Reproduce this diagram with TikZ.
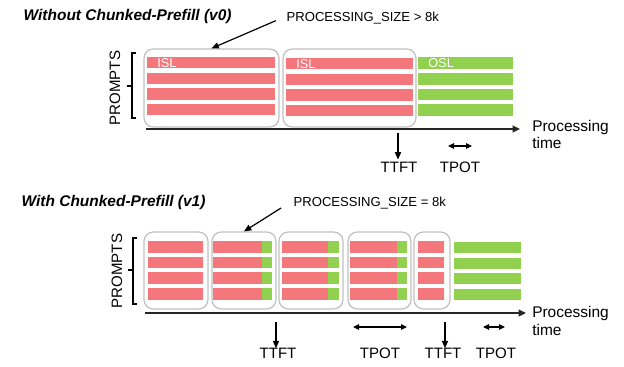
\documentclass[tikz,border=0pt]{standalone}
\usepackage{fontspec}
\setmainfont{Liberation Sans}
\usetikzlibrary{arrows.meta,fit}
\definecolor{islred}{HTML}{F4777B}
\definecolor{oslgreen}{HTML}{92D050}
\definecolor{chunkgray}{HTML}{C0C0C0}
\tikzset{
	chunk/.style={draw=chunkgray, line width=0.9pt, rounded corners=7pt, inner sep=0pt},
	ttl/.style={anchor=west, font=\fontsize{11.6}{14}\selectfont\bfseries\itshape},
	note/.style={anchor=west, font=\fontsize{9.8}{12}\selectfont},
	lbl/.style={font=\fontsize{11.3}{12.8}\selectfont, inner sep=1.5pt},
	tag/.style={anchor=west, text=white, inner sep=0pt, font=\fontsize{9.6}{11}\selectfont},
	ptr/.style={-{Triangle[length=5.5pt,width=4.6pt]}, line width=0.9pt},
	span/.style={{Triangle[length=4.5pt,width=4.2pt]}-{Triangle[length=4.5pt,width=4.2pt]}, line width=0.9pt},
	axis/.style={-{Triangle[length=5.5pt,width=5pt]}, line width=1.4pt, draw=black!85},
}
\begin{document}
\begin{tikzpicture}[x=0.75pt, y=-0.75pt]
	\useasboundingbox (0,0) rectangle (624,367);

	% without chunked prefill
	\node[ttl] (title0) at (19,17) {Without Chunked-Prefill (v0)};
	\node[note] (size0) at (282,18) {PROCESSING\_SIZE > 8k};
	\foreach \y in {57,72.6,88.2,103.8} {
		\fill[islred] (147,\y) rectangle (275,\y+11.5);
		\fill[islred] (286,\y+1) rectangle (413,\y+12.5);
		\fill[oslgreen] (418,\y+0.5) rectangle (513,\y+12);
	}
	\node[chunk, fit={(144,49) (279,127)}] (b1) {};
	\node[chunk, fit={(283,49) (416,127)}] (b2) {};
	\node[tag] (isl1) at (157,63) {ISL};
	\node[tag] (isl2) at (296,64) {ISL};
	\node[tag] (osl) at (428,63.5) {OSL};
	\draw[ptr, shorten <=5pt] (size0.west) -- (b1.north);

	\draw[line width=0.9pt] (136,53) -- (132,53) -- (132,118) -- (136,118);
	\draw[line width=0.9pt] (132,86) -- (127,86);
	\node[lbl, rotate=90] (prompts0) at (115,88) {PROMPTS};

	\coordinate (o0) at (146,129);
	\coordinate (t0) at (520,129);
	\draw[axis] (o0) -- (t0);
	\node[lbl, anchor=west, align=left, font=\fontsize{11.6}{12.8}\selectfont] (time0) at (530,134.5) {Processing\\time};

	\coordinate (f0) at (398,133);
	\node[lbl] (ttft0) at (399,167) {TTFT};
	\draw[ptr] (f0) -- (ttft0.north -| f0);
	\coordinate (p0a) at (448,146);
	\coordinate (p0b) at (472,146);
	\draw[span] (p0a) -- (p0b);
	\node[lbl] (tpot0) at (460,167) {TPOT};

	% with chunked prefill
	\node[ttl] (title1) at (17,203) {With Chunked-Prefill (v1)};
	\node[note] (size1) at (289,203) {PROCESSING\_SIZE = 8k};
	\foreach \a/\b/\c in {148/203/203, 213/262/272, 282/328/339, 350/397/407, 418/444/444} {
		\foreach \y in {241,256.7,272.4,288.1} {
			\fill[islred] (\a,\y) rectangle (\b,\y+11.7);
			\fill[oslgreen] (\b,\y) rectangle (\c,\y+11.7);
		}
	}
	\foreach \y in {242,257.7,273.4,289.1}
		\fill[oslgreen] (454,\y) rectangle (521,\y+11);
	\node[chunk, fit={(144,232) (208,309)}] (c1) {};
	\node[chunk, fit={(212,232) (276,309)}] (c2) {};
	\node[chunk, fit={(279,232) (343,309)}] (c3) {};
	\node[chunk, fit={(348,232) (411,309)}] (c4) {};
	\node[chunk, fit={(414,232) (450,309)}] (c5) {};
	\draw[ptr, shorten <=7pt] (size1.west) -- (c2.north);

	\draw[line width=0.9pt] (137,238) -- (133,238) -- (133,304) -- (137,304);
	\draw[line width=0.9pt] (133,270) -- (128,270);
	\node[lbl, rotate=90] (prompts1) at (117,271) {PROMPTS};

	\coordinate (o1) at (145,313);
	\coordinate (t1) at (526,313);
	\draw[axis] (o1) -- (t1);
	\node[lbl, anchor=west, align=left, font=\fontsize{11.6}{12.8}\selectfont] (time1) at (530,321) {Processing\\time};

	\coordinate (f1) at (276,322);
	\node[lbl] (ttft1) at (278,353) {TTFT};
	\draw[ptr, shorten >=-2pt] (f1) -- (ttft1.north -| f1);
	\coordinate (p1a) at (353,327);
	\coordinate (p1b) at (407,327);
	\draw[span] (p1a) -- (p1b);
	\node[lbl] (tpot1) at (380,353) {TPOT};
	\coordinate (f2) at (445,322);
	\node[lbl] (ttft2) at (443,353) {TTFT};
	\draw[ptr, shorten >=-2pt] (f2) -- (ttft2.north -| f2);
	\coordinate (p2a) at (483,327);
	\coordinate (p2b) at (505,327);
	\draw[span] (p2a) -- (p2b);
	\node[lbl] (tpot2) at (496,353) {TPOT};
\end{tikzpicture}
\end{document}
